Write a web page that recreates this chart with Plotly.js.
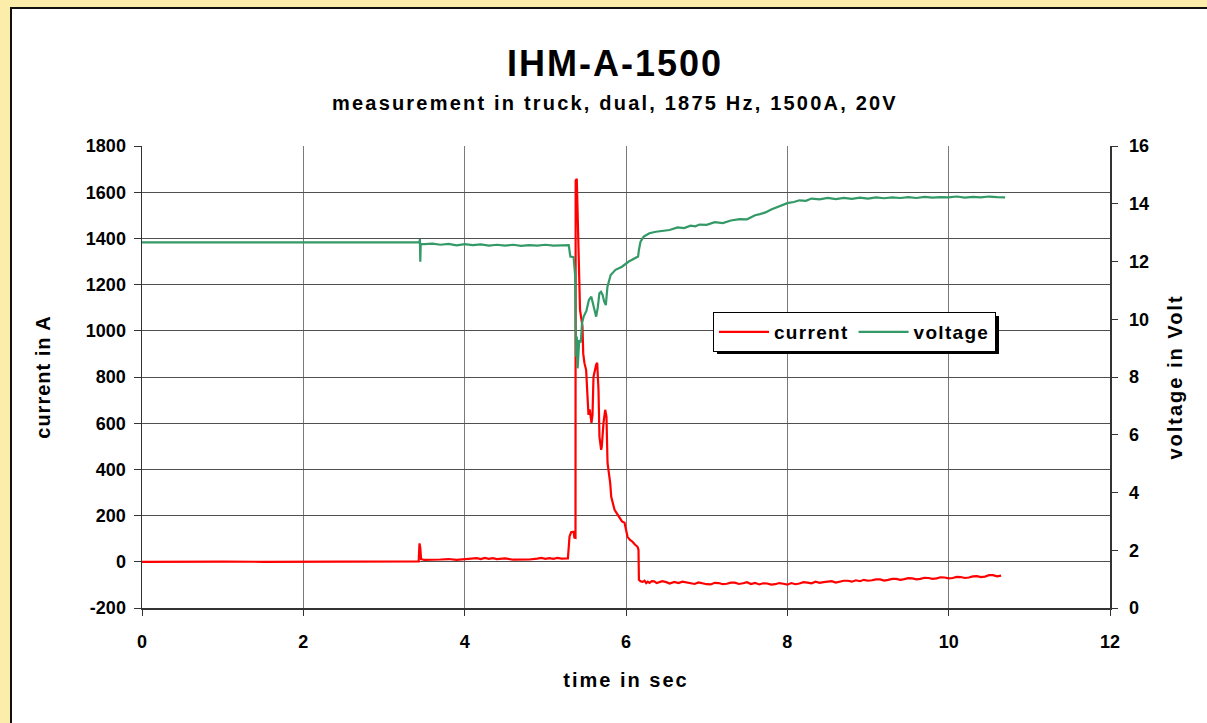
<!DOCTYPE html>
<html>
<head>
<meta charset="utf-8">
<script src="https://cdn.plot.ly/plotly-3.0.1.min.js"></script>
<style>
html,body{margin:0;padding:0;background:#FCEEAA;}
#chart{width:1207px;height:723px;}
.gtitle{letter-spacing:2px;}
.annotation-text{letter-spacing:2.2px;}
.xtitle,.y2title{letter-spacing:2px;}
.ytitle{letter-spacing:1px;}
.legendtext{letter-spacing:1.3px;}
</style>
</head>
<body>
<div id="chart"></div>
<script>
// ---- data ----
const currentTime = [0,0.5,1.0,1.01,1.5,2.0,2.5,3.0,3.43,3.44,3.45,3.46,3.5,3.7,3.8,3.9,4.0,4.1,4.15,4.2,4.25,4.3,4.35,4.4,4.5,4.6,4.7,4.8,4.9,4.95,5.0,5.05,5.1,5.15,5.2,5.28,5.30,5.32,5.35,5.36,5.374,5.376,5.39,5.40,5.42,5.43,5.46,5.47,5.485,5.506,5.523,5.535,5.55,5.572,5.585,5.597,5.63,5.643,5.659,5.671,5.692,5.70,5.721,5.742,5.758,5.771,5.804,5.817,5.858,5.92,5.95,5.982,6.0,6.019,6.05,6.081,6.11,6.143,6.155,6.16,6.18,6.205,6.23,6.25,6.27,6.292,6.32,6.35,6.38,6.4,6.45,6.5,6.54,6.6,6.65,6.7,6.75,6.8,6.85,6.9,6.95,7.0,7.05,7.1,7.15,7.2,7.25,7.3,7.35,7.4,7.45,7.5,7.55,7.6,7.65,7.7,7.75,7.8,7.85,7.9,7.95,8.0,8.05,8.1,8.15,8.2,8.25,8.3,8.35,8.4,8.45,8.5,8.55,8.6,8.65,8.7,8.75,8.8,8.85,8.9,8.95,9.0,9.05,9.1,9.15,9.2,9.25,9.3,9.35,9.4,9.45,9.5,9.55,9.6,9.65,9.7,9.75,9.8,9.85,9.9,9.95,10.0,10.05,10.1,10.15,10.2,10.25,10.3,10.35,10.4,10.45,10.5,10.55,10.6,10.65,10.7];
const currentA = [0,1,3,1,0,1,0,1,2,80,60,12,8,10,12,8,10,12,16,12,17,13,16,12,15,9,8,10,14,17,13,16,13,17,14,15,110,128,130,105,104,1650,1658,1540,1300,1090,1020,900,860,830,714,636,660,601,636,800,853,861,745,541,485,500,601,658,628,428,342,281,225,190,175,169,140,108,95,87,75,65,52,-78,-84,-87,-82,-92,-86,-91,-84,-85,-92,-90,-84,-88,-94,-87,-92,-86,-90,-95,-96,-89,-94,-97,-98,-91,-92,-97,-95,-90,-90,-96,-93,-88,-96,-91,-98,-93,-94,-99,-97,-92,-95,-99,-92,-97,-94,-88,-90,-93,-86,-91,-88,-85,-84,-90,-86,-82,-82,-86,-80,-84,-78,-82,-80,-76,-76,-81,-78,-74,-74,-78,-75,-71,-72,-76,-74,-69,-70,-74,-72,-67,-68,-72,-70,-65,-66,-70,-68,-63,-62,-66,-64,-58,-58,-63,-60];

const voltageTime = [0,0.5,1.0,1.5,2.0,2.5,3.0,3.44,3.445,3.45,3.455,3.5,3.6,3.7,3.8,3.9,4.0,4.1,4.2,4.3,4.4,4.5,4.6,4.7,4.8,4.9,5.0,5.1,5.2,5.29,5.31,5.35,5.37,5.38,5.39,5.40,5.42,5.44,5.455,5.475,5.51,5.54,5.57,5.59,5.61,5.63,5.65,5.67,5.69,5.71,5.73,5.75,5.77,5.79,5.81,5.87,5.95,6.03,6.12,6.15,6.16,6.18,6.22,6.29,6.37,6.45,6.54,6.64,6.72,6.8,6.86,6.91,7.0,7.1,7.2,7.3,7.41,7.5,7.6,7.66,7.73,7.8,7.9,8.0,8.08,8.15,8.23,8.3,8.4,8.5,8.6,8.7,8.8,8.9,9.0,9.1,9.2,9.3,9.4,9.5,9.6,9.7,9.8,9.9,10.0,10.1,10.2,10.3,10.4,10.5,10.6,10.7];
const voltageV = [12.66,12.66,12.65,12.66,12.66,12.65,12.66,12.66,12.78,11.99,12.6,12.6,12.62,12.58,12.61,12.56,12.6,12.57,12.59,12.55,12.58,12.55,12.58,12.54,12.57,12.55,12.58,12.55,12.57,12.57,12.17,12.15,11.5,8.7,9.4,8.3,9.28,9.2,9.87,10.09,10.3,10.67,10.78,10.55,10.32,10.09,10.4,10.9,10.95,10.84,10.61,10.49,11.13,11.36,11.53,11.71,11.82,11.99,12.11,12.17,12.40,12.69,12.86,12.98,13.03,13.06,13.09,13.18,13.16,13.24,13.22,13.28,13.27,13.36,13.33,13.42,13.47,13.46,13.6,13.64,13.7,13.8,13.92,14.02,14.06,14.12,14.1,14.18,14.15,14.2,14.16,14.2,14.17,14.21,14.18,14.22,14.19,14.22,14.2,14.23,14.2,14.24,14.21,14.23,14.22,14.25,14.21,14.24,14.22,14.25,14.23,14.22];

const seriesNames = ["current", "voltage"];
const leftTickVals = [-200, 0, 200, 400, 600, 800, 1000, 1200, 1400, 1600, 1800];
const leftTickText = ["-200", "0", "200", "400", "600", "800", "1000", "1200", "1400", "1600", "1800"];
const chartTitle = "IHM-A-1500";
const chartSubtitle = "measurement in truck, dual, 1875 Hz, 1500A, 20V";
const xTitle = "time in sec";
const yLeftTitle = "current in A";
const yRightTitle = "voltage in Volt";

// ---- layout ----
const FONT = "Liberation Sans, Arial, sans-serif";
const W = 1207, H = 723;
const L = 142, R = 1110, T = 146, B = 608;
const pw = R - L, ph = B - T;
const px = v => (v - L) / pw;
const py = v => (B - v) / ph;

const traces = [
  {x: currentTime, y: currentA, name: seriesNames[0], type: "scatter", mode: "lines",
   line: {color: "#FF0000", width: 2.2}, yaxis: "y"},
  {x: voltageTime, y: voltageV, name: seriesNames[1], type: "scatter", mode: "lines",
   line: {color: "#339966", width: 2.2}, yaxis: "y2"}
];

const tickFont = {family: FONT, size: 18, color: "#000", weight: "bold"};
const titleFont = {family: FONT, size: 20, color: "#000", weight: "bold"};

const layout = {
  width: W, height: H,
  paper_bgcolor: "#FCEEAA",
  plot_bgcolor: "#FFFFFF",
  margin: {l: L, r: W - R, t: T, b: H - B, pad: 0},
  showlegend: true,
  title: {text: "<b>" + chartTitle + "</b>", font: {family: FONT, size: 36, color: "#000"},
          x: px(615), xanchor: "center", xref: "paper", y: 1 - 63 / H, yanchor: "middle", yref: "container"},
  xaxis: {range: [0, 12], dtick: 2, tick0: 0, showgrid: true, gridcolor: "#7a7a7a", gridwidth: 1,
          showline: true, linecolor: "#333", linewidth: 1.5, ticks: "outside", ticklen: 6, tickcolor: "#333",
          tickfont: tickFont, ticklabelstandoff: 11, zeroline: false,
          title: {text: xTitle, font: titleFont, standoff: 22}},
  yaxis: {range: [-200, 1800], tickmode: "array", tickvals: leftTickVals, ticktext: leftTickText,
          showgrid: true, gridcolor: "#505050", gridwidth: 1,
          showline: true, linecolor: "#333", linewidth: 1.5, ticks: "outside", ticklen: 7, tickcolor: "#333",
          tickfont: tickFont, ticklabelstandoff: 4, zeroline: false,
          title: {text: yLeftTitle, font: titleFont, standoff: 30}},
  yaxis2: {range: [0, 16], dtick: 2, tick0: 0, overlaying: "y", side: "right", showgrid: false,
           showline: true, linecolor: "#333", linewidth: 1.5, ticks: "outside", ticklen: 6, tickcolor: "#333",
           tickfont: tickFont, ticklabelstandoff: 8, zeroline: false,
           title: {text: yRightTitle, font: titleFont, standoff: 20}},
  legend: {orientation: "h", x: px(713), y: py(312), xanchor: "left", yanchor: "top",
           bgcolor: "#FFFFFF", bordercolor: "#000", borderwidth: 1,
           font: {family: FONT, size: 19, color: "#000", weight: "bold"}, itemwidth: 50},
  annotations: [
    {text: "<b>" + chartSubtitle + "</b>", xref: "paper", yref: "paper", x: px(615), y: py(103),
     xanchor: "center", yanchor: "middle", showarrow: false, font: {family: FONT, size: 20, color: "#000"}}
  ],
  shapes: [
    {type: "rect", xref: "paper", yref: "paper", x0: px(11), x1: px(1215), y0: py(8), y1: py(735),
     fillcolor: "#FFFFFF", line: {color: "#111", width: 2}, layer: "below"},
    {type: "rect", xref: "paper", yref: "paper", x0: px(717), x1: px(999), y0: py(354), y1: py(316),
     fillcolor: "#000", line: {width: 0}, layer: "above"}
  ]
};

Plotly.newPlot("chart", traces, layout, {displayModeBar: false, staticPlot: true});
</script>
</body>
</html>
